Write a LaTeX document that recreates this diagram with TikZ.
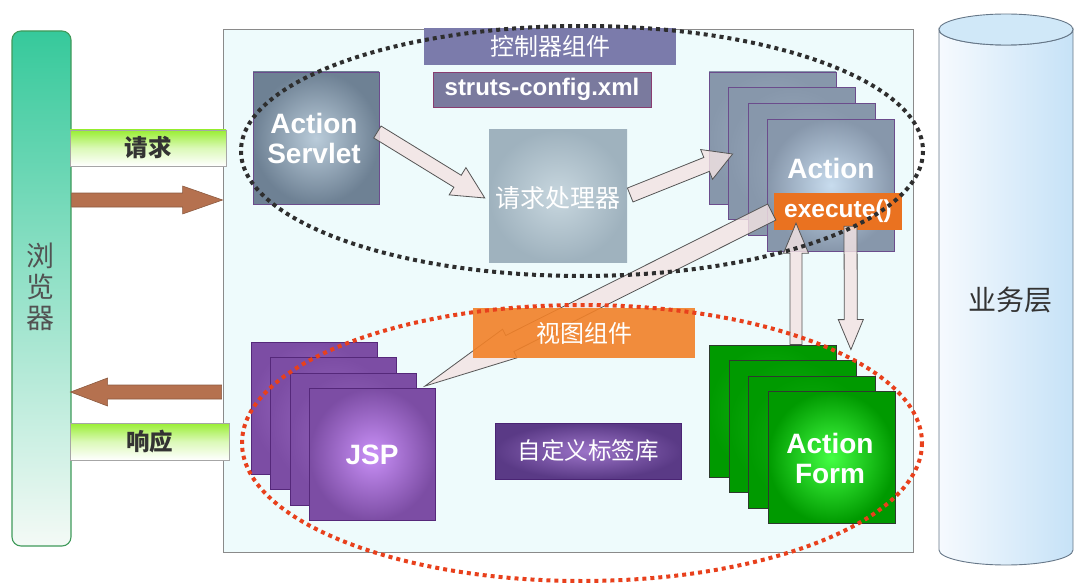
\documentclass[tikz,border=0pt]{standalone}
\usepackage{fontspec}
\setmainfont{Liberation Sans}
\newfontfamily\cjk{Noto Sans CJK SC}
\usetikzlibrary{calc}

\definecolor{panelfill}{HTML}{EEFBFC}
\definecolor{panelline}{HTML}{8A8A8A}
\definecolor{browsertop}{HTML}{36C99B}
\definecolor{browserbot}{HTML}{F4FAF6}
\definecolor{browserline}{HTML}{3F9A5A}
\definecolor{lblgreen}{HTML}{99EE33}
\definecolor{brownfill}{HTML}{B5714F}
\definecolor{brownline}{HTML}{8B5A40}
\definecolor{cylleft}{HTML}{F6FAFE}
\definecolor{cylright}{HTML}{C6E2F7}
\definecolor{cyltop}{HTML}{D0E8F8}
\definecolor{cylline}{HTML}{667788}
\definecolor{slatebar}{HTML}{7B7BAB}
\definecolor{slatebox}{HTML}{7A7A9E}
\definecolor{plum}{HTML}{6B4C8C}
\definecolor{slateout}{HTML}{8797AB}
\definecolor{slatein}{HTML}{C8DCEE}
\definecolor{slatebackin}{HTML}{9CACBF}
\definecolor{srvout}{HTML}{6E8194}
\definecolor{srvin}{HTML}{BACCDA}
\definecolor{procout}{HTML}{9FB2BE}
\definecolor{procin}{HTML}{C8D7DF}
\definecolor{orangebox}{HTML}{F28128}
\definecolor{orangeexe}{HTML}{EA7220}
\definecolor{jspout}{HTML}{7C4DA4}
\definecolor{jspin}{HTML}{C990F7}
\definecolor{jspbackin}{HTML}{9A6AC2}
\definecolor{jspline}{HTML}{55287A}
\definecolor{tagout}{HTML}{5A3A86}
\definecolor{tagin}{HTML}{9C74C8}
\definecolor{tagline}{HTML}{4A2474}
\definecolor{afout}{HTML}{009A00}
\definecolor{afin}{HTML}{44FF44}
\definecolor{afbackin}{HTML}{14B414}
\definecolor{afline}{HTML}{2E3A2E}
\definecolor{hollowfill}{HTML}{F3E3E3}
\definecolor{hollowline}{HTML}{555555}
\definecolor{ctlring}{HTML}{2E2E2E}
\definecolor{viewring}{HTML}{E8401C}
\definecolor{darktext}{HTML}{333333}

% block arrow from #2 to #3: shaft half width #4, head half width #5, head length #6
\newcommand\fatarrow[6][]{%
  \coordinate (fah) at ($(#3)!#6!(#2)$);
  \draw[#1] ($(#2)!#4!90:(#3)$) -- ($(fah)!#4!90:(#3)$) -- ($(fah)!#5!90:(#3)$) -- (#3)
    -- ($(fah)!#5!-90:(#3)$) -- ($(fah)!#4!-90:(#3)$) -- ($(#2)!#4!-90:(#3)$) -- cycle;
}

\begin{document}
\begin{tikzpicture}[x=1pt,y=-1pt,
  boxed/.style={rectangle, inner sep=0pt},
  latinw/.style={text=white, align=center, font=\bfseries\fontsize{28}{33}\selectfont},
  cjkw/.style={text=white, font=\cjk\fontsize{24}{26}\selectfont},
  greenlbl/.style={boxed, top color=lblgreen, bottom color=white, middle color=lblgreen!35!white,
    draw=gray!70, line width=0.8pt, text=darktext, font=\cjk\bfseries\fontsize{23.5}{26}\selectfont},
  brownarrow/.style={fill=brownfill, draw=brownline, line width=0.6pt},
  hollow/.style={fill=hollowfill, fill opacity=0.82, draw=hollowline, line width=0.8pt},
  actbox/.style={boxed, minimum width=127, minimum height=132, draw=plum, line width=0.8pt,
    inner color=slatebackin, outer color=slateout},
  jspbox/.style={boxed, minimum width=126, minimum height=132, draw=jspline, line width=0.8pt,
    inner color=jspbackin, outer color=jspout},
  afbox/.style={boxed, minimum width=127, minimum height=132, draw=afline, line width=0.8pt,
    inner color=afbackin, outer color=afout},
  ring/.style={line width=4pt, dash pattern=on 4pt off 4pt}
]
\useasboundingbox (0,0) rectangle (1074,583);

% business tier cylinder
\shade[left color=cylleft, right color=cylright, draw=cylline, line width=0.9pt]
  (939,29.5) -- (939,550) arc[start angle=180, end angle=0, x radius=67, y radius=15]
  -- (1073,29.5) arc[start angle=0, end angle=180, x radius=67, y radius=15.5] -- cycle;
\draw[fill=cyltop, draw=cylline, line width=0.9pt] (1006,29.5) ellipse[x radius=67, y radius=15.5];
\node[text=darktext, font=\cjk\fontsize{28}{30}\selectfont] (biz) at (1010,300) {业务层};

% browser column
\node[boxed, minimum width=59, minimum height=515, rounded corners=9pt,
  top color=browsertop, bottom color=browserbot, draw=browserline, line width=1.1pt] (brw) at (41.5,288.5) {};
\node[align=center, text=darktext!85, font=\cjk\fontsize{28}{31}\selectfont] (brwt) at (40,287) {浏\\览\\器};

% framework panel
\node[boxed, minimum width=690, minimum height=523, fill=panelfill, draw=panelline, line width=0.9pt] (panel) at (568,290.5) {};

% request / response labels
\node[greenlbl, minimum width=156, minimum height=36] (req) at (148,148) {请求};
\node[greenlbl, minimum width=159, minimum height=37] (resp) at (149.5,441.5) {响应};

% request and response arrows
\coordinate (rqS) at ($(brw.east)+(0,-88.5)$);
\coordinate (rqE) at ($(panel.west)+(0,-90.5)$);
\fatarrow[brownarrow]{rqS}{rqE}{7pt}{14pt}{40pt}
\coordinate (rsS) at ($(panel.west)+(-1,101.5)$);
\coordinate (rsE) at ($(brw.east)+(-1,103.5)$);
\fatarrow[brownarrow]{rsS}{rsE}{7pt}{14pt}{37pt}

% controller part
\node[boxed, minimum width=252, minimum height=37, fill=slatebar, cjkw] (ctl) at (550,46.5) {控制器组件};
\node[boxed, minimum width=218, minimum height=35, fill=slatebox, draw=plum!80!red, line width=0.8pt,
  text=white, font=\bfseries\fontsize{24}{26}\selectfont] (struts) at (542,89.5) {struts-config.xml};
\node[boxed, minimum width=126, minimum height=132, draw=plum, line width=0.8pt,
  inner color=srvin, outer color=srvout] (srv) at (316,138) {};
\node[latinw] (srvt) at (314,138) {Action\\[-3pt]Servlet};
\node[boxed, minimum width=138, minimum height=132, inner color=procin, outer color=procout] (proc) at (558,196) {};
\node[cjkw, font=\cjk\fontsize{25}{27}\selectfont] (proct) at (558,198) {请求处理器};

\coordinate (a1s) at ($(srv.east)+(-2,-6)$);
\coordinate (a1e) at ($(proc.west)+(-4,2)$);
\fatarrow[hollow]{a1s}{a1e}{7pt}{16pt}{32pt}

% action stack
\node[actbox] (act1) at (772.5,138) {};
\node[actbox] (act2) at (792,153.7) {};
\node[actbox] (act3) at (811.5,169.4) {};
\node[actbox, inner color=slatein] (act4) at (831,185.1) {};
\node[latinw] (actt) at (831,168) {Action};
\node[boxed, minimum width=128, minimum height=37, fill=orangeexe, text=white,
  font=\bfseries\fontsize{24.5}{26}\selectfont] (exe) at (838,211.5) {execute()};

\coordinate (a2s) at ($(proc.east)+(3,-1)$);
\coordinate (a2e) at ($(act1.west)+(24,16)$);
\fatarrow[hollow]{a2s}{a2e}{7.5pt}{16pt}{28pt}

% view part
\node[jspbox] (jsp1) at (314,408) {};
\node[jspbox] (jsp2) at (333.5,423.5) {};
\node[jspbox] (jsp3) at (353,439) {};
\node[jspbox, inner color=jspin] (jsp4) at (372.5,454.5) {};
\node[latinw] (jspt) at (372,455) {JSP};
\node[boxed, minimum width=186, minimum height=56, draw=tagline, line width=1pt,
  inner color=tagin, outer color=tagout, cjkw, font=\cjk\fontsize{23.5}{26}\selectfont] (tag) at (588,451) {自定义标签库};

% action form stack
\node[afbox] (af1) at (772.5,411) {};
\node[afbox] (af2) at (792.5,426.5) {};
\node[afbox] (af3) at (811.5,442) {};
\node[afbox, inner color=afin] (af4) at (831.5,457.5) {};
\node[latinw] (aft) at (830,458) {Action\\[-3pt]Form};

% execute() forwards to the JSP
\coordinate (a3s) at ($(exe.west)+(-2,0.5)$);
\coordinate (a3e) at ($(jsp4.north east)+(-11,-2)$);
\fatarrow[hollow]{a3s}{a3e}{9pt}{16pt}{95pt}
\node[boxed, minimum width=222, minimum height=50, fill=orangebox, fill opacity=0.9, text opacity=1,
  cjkw] (view) at (584,333) {视图组件};

% execute() and ActionForm
\coordinate (upS) at ($(af1.north)+(23.5,0)$);
\coordinate (upE) at ($(exe.south)+(-42,-7)$);
\fatarrow[hollow]{upS}{upE}{6pt}{12.5pt}{30pt}
\coordinate (dnS) at ($(exe.south)+(12.5,-4)$);
\coordinate (dnE) at ($(af1.north east)+(14.5,5)$);
\fatarrow[hollow]{dnS}{dnE}{6.5pt}{12.5pt}{30pt}

% component rings
\draw[ring, draw=ctlring] (582,151) ellipse[x radius=341, y radius=125];
\draw[ring, draw=viewring] (582,443) ellipse[x radius=340, y radius=138];
\end{tikzpicture}
\end{document}
